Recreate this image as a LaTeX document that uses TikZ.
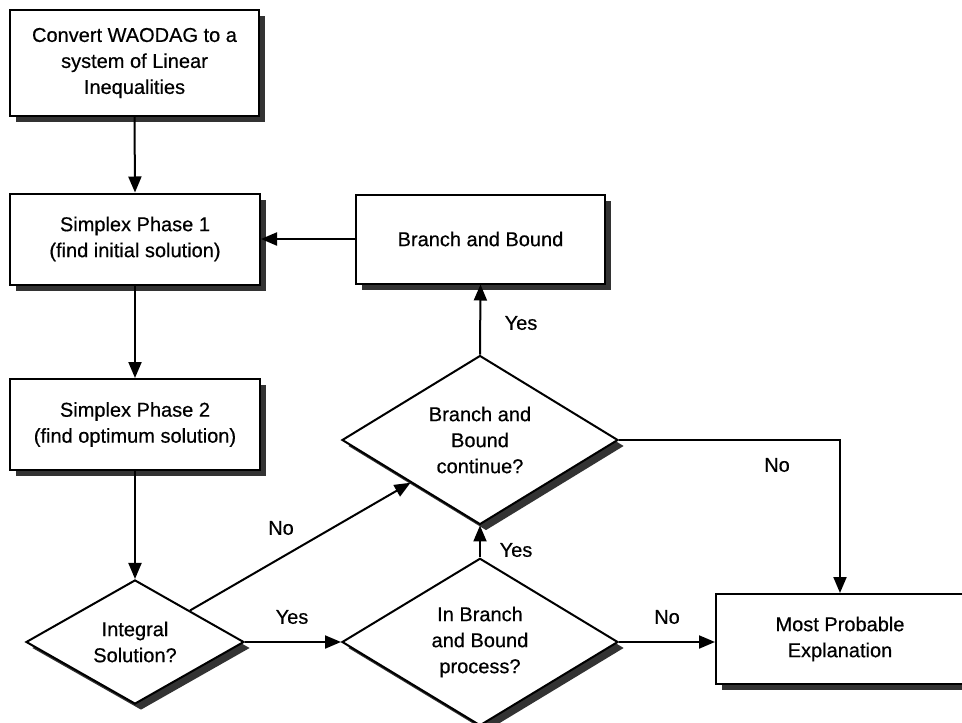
\documentclass[tikz,border=0pt]{standalone}
\usepackage{fontspec}
\setmainfont{Liberation Sans}
\newfontfamily\chartfont{Liberation Sans}[FakeBold=0.5]
\usetikzlibrary{shapes.geometric,shadows,arrows.meta}

\begin{document}
\begin{tikzpicture}[x=1pt,y=-1pt,
  every node/.style={font=\chartfont\fontsize{20}{26}\selectfont},
  shade6/.style={drop shadow={shadow xshift=6pt,shadow yshift=-6pt,fill=black!80,opacity=1}},
  procbox/.style={rectangle,draw,line width=2pt,fill=white,inner sep=0pt,align=center,shade6},
  decide/.style={diamond,draw,line width=2pt,fill=white,inner sep=0pt,align=center,shade6},
  arr/.style={line width=2pt,-{Triangle[length=16pt,width=13pt]}},
  lbl/.style={inner sep=0pt}]
  % page frame
  \useasboundingbox (0,0) rectangle (962,723);
  \begin{scope}
  \clip (0,0) rectangle (962,723);

  % process boxes
  \node[procbox,minimum width=249pt,minimum height=106pt] (conv) at (134.5,63)
    {Convert WAODAG to a\\system of Linear\\Inequalities};
  \node[procbox,minimum width=250pt,minimum height=91pt] (ph1) at (135,239)
    {Simplex Phase 1\\(find initial solution)};
  \node[procbox,minimum width=250pt,minimum height=91pt] (ph2) at (135,424.5)
    {Simplex Phase 2\\(find optimum solution)};
  \node[procbox,minimum width=249pt,minimum height=89pt] (bnb) at (480.5,239)
    {Branch and Bound};
  \node[procbox,minimum width=248pt,minimum height=90pt] (mpe) at (840,639)
    {Most Probable\\Explanation};

  % decisions
  \node[decide,minimum width=218pt,minimum height=124pt] (integ) at (135,642)
    {Integral\\Solution?};
  \node[decide,minimum width=276pt,minimum height=152pt] (inbnb) at (480,642)
    {In Branch\\and Bound\\process?};
  \node[decide,minimum width=276pt,minimum height=154pt] (cont) at (480,440)
    {Branch and\\Bound\\continue?};

  % connectors
  \draw[arr] (conv.south) -- (ph1.north);
  \draw[arr] (ph1.south) -- (ph2.north);
  \draw[arr] (ph2.south) -- (integ.north);
  \draw[arr] (integ.east) -- (inbnb.west);
  \draw[arr] (integ.north east) -- (cont.south west);
  \draw[arr] (inbnb.north) -- (cont.south);
  \draw[arr] (cont.north) -- (bnb.south);
  \draw[arr] (bnb.west) -- (ph1.east);
  \draw[arr] (inbnb.east) -- (inbnb.east -| mpe.west);
  \draw[arr] (cont.east) -- (cont.east -| mpe.north) -- (mpe.north);

  % branch labels
  \node[lbl] (lno1) at (281,528) {No};
  \node[lbl] (lyes1) at (292,617) {Yes};
  \node[lbl] (lyes2) at (516,550) {Yes};
  \node[lbl] (lyes3) at (521,323) {Yes};
  \node[lbl] (lno2) at (667,617) {No};
  \node[lbl] (lno3) at (777,465) {No};
  \end{scope}
\end{tikzpicture}
\end{document}
